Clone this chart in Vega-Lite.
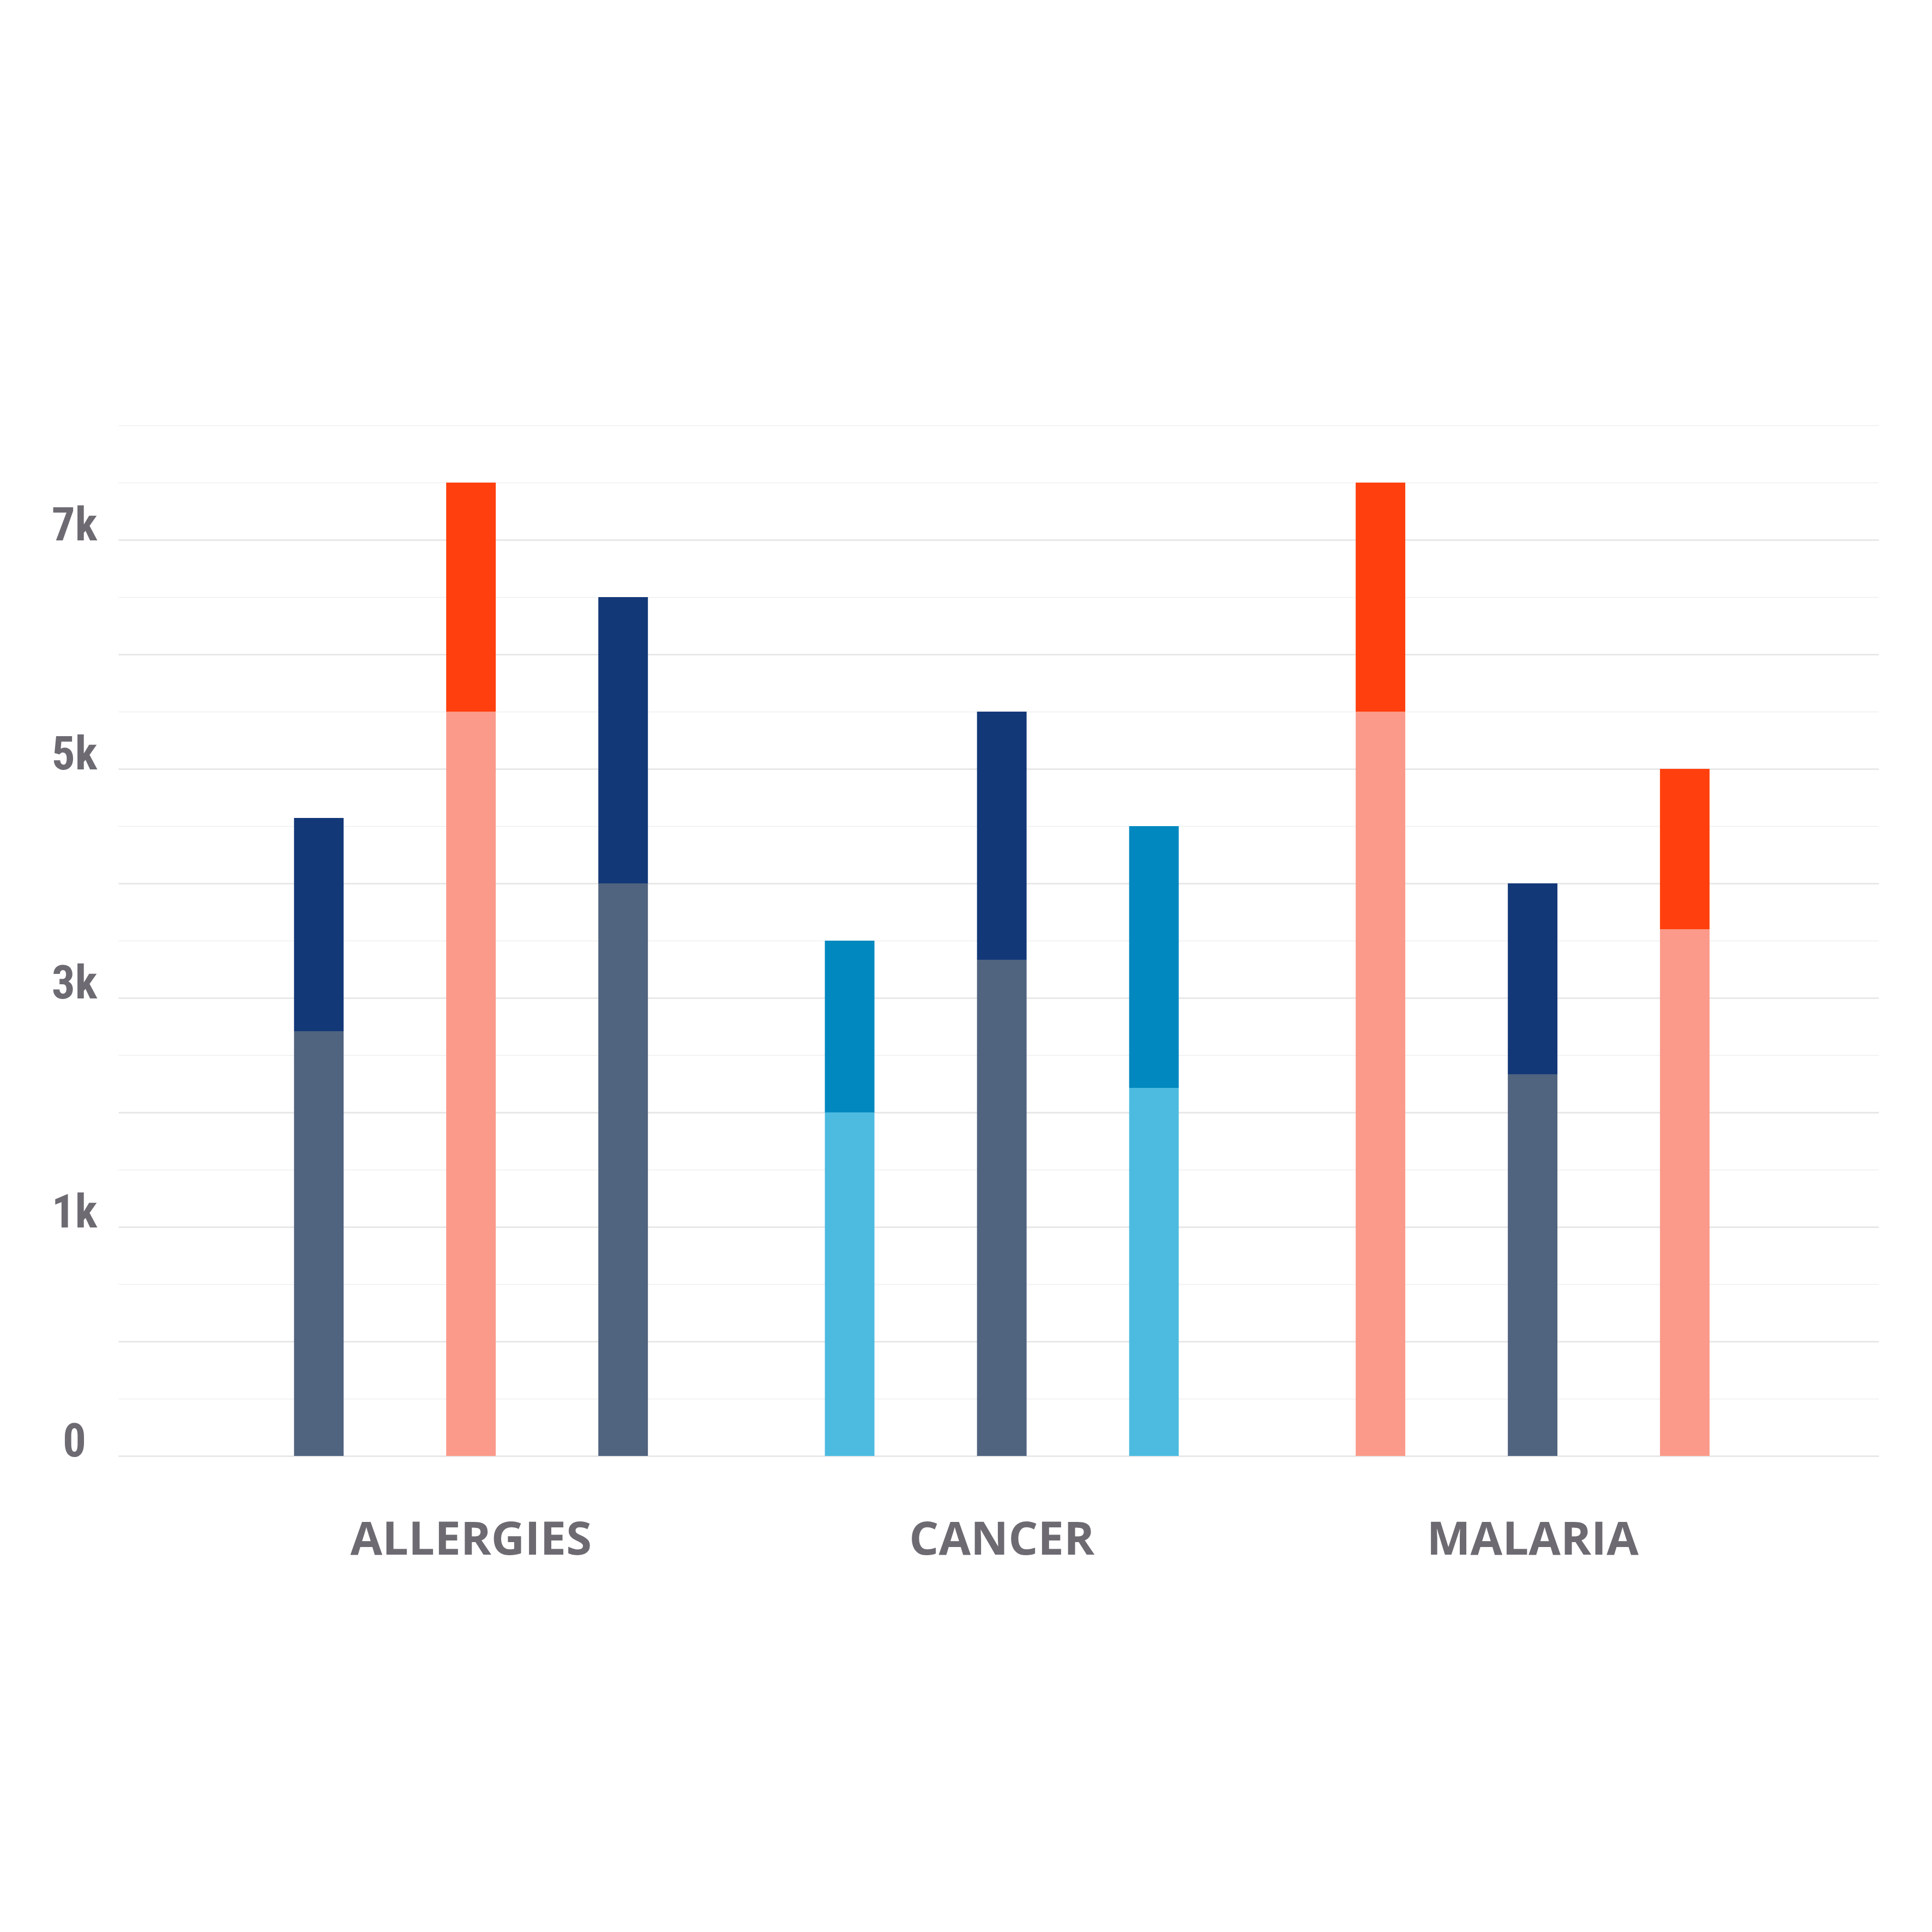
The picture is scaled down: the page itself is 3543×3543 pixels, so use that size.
{
  "$schema": "https://vega.github.io/schema/vega-lite/v6.json",
  "autosize": {"type": "none"},
  "width": 3228,
  "height": 1890,
  "padding": {"left": 217, "top": 780, "right": 98, "bottom": 873},
  "background": "white",
  "data": {
    "values": [
      {"disease": "ALLERGIES", "bar": "1", "part": "lower", "segment": "gray-lower", "value": 3246},
      {"disease": "ALLERGIES", "bar": "1", "part": "upper", "segment": "gray-upper", "value": 1629},
      {"disease": "ALLERGIES", "bar": "2", "part": "lower", "segment": "red-lower", "value": 5687.5},
      {"disease": "ALLERGIES", "bar": "2", "part": "upper", "segment": "red-upper", "value": 1750},
      {"disease": "ALLERGIES", "bar": "3", "part": "lower", "segment": "gray-lower", "value": 4375},
      {"disease": "ALLERGIES", "bar": "3", "part": "upper", "segment": "gray-upper", "value": 2187.5},
      {"disease": "CANCER", "bar": "1", "part": "lower", "segment": "blue-lower", "value": 2625},
      {"disease": "CANCER", "bar": "1", "part": "upper", "segment": "blue-upper", "value": 1312.5},
      {"disease": "CANCER", "bar": "2", "part": "lower", "segment": "gray-lower", "value": 3792},
      {"disease": "CANCER", "bar": "2", "part": "upper", "segment": "gray-upper", "value": 1895.5},
      {"disease": "CANCER", "bar": "3", "part": "lower", "segment": "blue-lower", "value": 2812},
      {"disease": "CANCER", "bar": "3", "part": "upper", "segment": "blue-upper", "value": 2000.5},
      {"disease": "MALARIA", "bar": "1", "part": "lower", "segment": "red-lower", "value": 5687.5},
      {"disease": "MALARIA", "bar": "1", "part": "upper", "segment": "red-upper", "value": 1750},
      {"disease": "MALARIA", "bar": "2", "part": "lower", "segment": "gray-lower", "value": 2917},
      {"disease": "MALARIA", "bar": "2", "part": "upper", "segment": "gray-upper", "value": 1458},
      {"disease": "MALARIA", "bar": "3", "part": "lower", "segment": "red-lower", "value": 4025},
      {"disease": "MALARIA", "bar": "3", "part": "upper", "segment": "red-upper", "value": 1225}
    ]
  },
  "mark": {"type": "bar"},
  "encoding": {
    "x": {
      "field": "disease",
      "type": "nominal",
      "sort": ["ALLERGIES", "CANCER", "MALARIA"],
      "scale": {"paddingInner": 0, "paddingOuter": 0.158, "align": 0.52},
      "axis": {
        "title": null,
        "domain": false,
        "ticks": false,
        "tickSize": 0,
        "grid": false,
        "labelAngle": 0,
        "labelBaseline": "alphabetic",
        "labelPadding": 180,
        "labelFont": "Open Sans",
        "labelFontWeight": "bold",
        "labelFontSize": 85,
        "labelColor": "#6d6a72",
        "labelLimit": 0
      }
    },
    "xOffset": {
      "field": "bar",
      "type": "nominal",
      "scale": {"paddingInner": 0.674, "paddingOuter": 0.5815}
    },
    "y": {
      "field": "value",
      "type": "quantitative",
      "stack": "zero",
      "scale": {"domain": [0, 7875], "nice": false, "zero": true},
      "axis": {
        "title": null,
        "domain": false,
        "ticks": false,
        "tickSize": 0,
        "values": [0, 437.5, 875, 1312.5, 1750, 2187.5, 2625, 3062.5, 3500, 3937.5, 4375, 4812.5, 5250, 5687.5, 6125, 6562.5, 7000, 7437.5, 7875],
        "labelExpr": "datum.value == 0 ? '0' : (datum.value % 1750 == 0 && datum.value < 7800 ? floor(datum.value / 1000) + 'k' : '')",
        "labelAlign": "center",
        "labelBaseline": "alphabetic",
        "labelPadding": 81,
        "labelOverlap": false,
        "labelFont": "Liberation Sans Narrow, Roboto Condensed, Arial Narrow, Roboto, sans-serif",
        "labelFontWeight": "bold",
        "labelFontSize": 85,
        "labelColor": "#6d6a72",
        "labelLimit": 0,
        "grid": true,
        "gridColor": {"condition": {"test": "datum.value % 875 == 0 && datum.value < 7800", "value": "#e8e8e8"}, "value": "#efefef"},
        "gridWidth": {"condition": {"test": "datum.value % 875 == 0 && datum.value < 7800", "value": 3}, "value": 1.5}
      }
    },
    "color": {
      "field": "segment",
      "type": "nominal",
      "scale": {
        "domain": ["gray-lower", "gray-upper", "red-lower", "red-upper", "blue-lower", "blue-upper"],
        "range": ["#50637f", "#133878", "#fb9a8a", "#ff400e", "#4dbbe0", "#0088bf"]
      },
      "legend": null
    },
    "order": {"field": "part", "type": "nominal", "sort": "ascending"}
  },
  "config": {"view": {"stroke": null}}
}
